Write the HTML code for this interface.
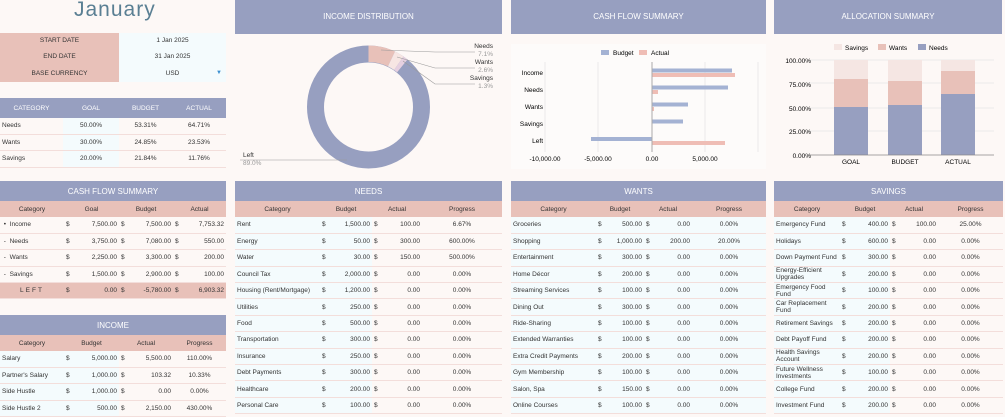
<!DOCTYPE html>
<html><head><meta charset="utf-8"><style>
*{margin:0;padding:0;box-sizing:border-box}
body{width:1005px;height:413px;background:#fdf8f6;position:relative;overflow:hidden;font-family:"Liberation Sans",sans-serif;font-size:6.5px;color:#333}
.abs{position:absolute}
.hdr{position:absolute;background:#979fc0;color:#fff;text-align:center;font-size:8px}
table{position:absolute;border-collapse:collapse;table-layout:fixed}
td{height:16.4px;border-bottom:1px solid #f3dedb;white-space:nowrap;overflow:hidden;padding:0 2px;vertical-align:middle}
tr.sub td{background:#e8c1b9;height:16px;text-align:center;color:#333;border:none;font-size:6.5px}
tr.th td{background:#979fc0;color:#fff;height:20px;text-align:center;font-size:8px;border:none}
.r{text-align:right}.c{text-align:center}
.b{background:#f4fbfd}.p{background:#fdf6f4}
.wrap td{white-space:normal;line-height:7px}
</style></head><body>

<div class="abs" style="left:74px;top:-2px;font-size:21px;color:#5a7f93;letter-spacing:1px">January</div>

<div class="abs" style="left:0;top:33px;width:119px;height:49px;background:#e8c1b9"></div>
<div class="abs" style="left:119px;top:33px;width:107px;height:49px;background:#f4fbfd"></div>
<div class="abs" style="left:0;top:37px;width:119px;text-align:center;font-size:6.5px">START DATE</div>
<div class="abs" style="left:0;top:53px;width:119px;text-align:center;font-size:6.5px">END DATE</div>
<div class="abs" style="left:0;top:70px;width:119px;text-align:center;font-size:6.5px">BASE CURRENCY</div>
<div class="abs" style="left:119px;top:37px;width:107px;text-align:center">1 Jan 2025</div>
<div class="abs" style="left:119px;top:53px;width:107px;text-align:center">31 Jan 2025</div>
<div class="abs" style="left:119px;top:70px;width:107px;text-align:center">USD</div>
<div class="abs" style="left:216px;top:70px;font-size:6px;color:#3a8fd0">▼</div>

<table style="left:0;top:98px;width:226px">
<colgroup><col style="width:63px"><col style="width:56px"><col style="width:53px"><col></colgroup>
<tr class="th"><td style="height:17px;font-size:6.5px">CATEGORY</td><td style="font-size:6.5px">GOAL</td><td style="font-size:6.5px">BUDGET</td><td style="font-size:6.5px">ACTUAL</td></tr>
<tr><td>Needs</td><td class="c b">50.00%</td><td class="c">53.31%</td><td class="c">64.71%</td></tr>
<tr><td>Wants</td><td class="c b">30.00%</td><td class="c">24.85%</td><td class="c">23.53%</td></tr>
<tr><td>Savings</td><td class="c b">20.00%</td><td class="c">21.84%</td><td class="c">11.76%</td></tr>
</table>

<!-- top chart headers -->
<div class="hdr" style="left:235px;top:0;width:267px;height:34px;line-height:34px">INCOME DISTRIBUTION</div>
<div class="hdr" style="left:511px;top:0;width:255px;height:34px;line-height:34px">CASH FLOW SUMMARY</div>
<div class="hdr" style="left:774px;top:0;width:228px;height:34px;line-height:34px">ALLOCATION SUMMARY</div>

<!-- donut -->
<svg class="abs" style="left:235px;top:34px" width="267" height="140">
<g transform="translate(133.5,73)">
<circle r="53" fill="none" stroke="#979fc0" stroke-width="17"/>
<path d="M0,-61.5 A61.5,61.5 0 0 1 26.5,-55.5 L19.4,-40.6 A45,45 0 0 0 0,-45Z" fill="#e8c1b9"/>
<path d="M26.5,-55.5 A61.5,61.5 0 0 1 35,-50.5 L25.6,-37 A45,45 0 0 0 19.4,-40.6Z" fill="#f7e6e3"/>
<path d="M35,-50.5 A61.5,61.5 0 0 1 39,-47.5 L28.6,-34.8 A45,45 0 0 0 25.6,-37Z" fill="#e6d0e0"/>
</g>
<g stroke="#999" stroke-width="0.6" fill="none">
<polyline points="146,16 200,18 240,18"/>
<polyline points="162,23 200,34 240,34"/>
<polyline points="168,27 200,50 240,50"/>
<polyline points="112,126 5,126"/>
</g>
<g font-size="6.5" text-anchor="end">
<text x="258" y="14" fill="#333">Needs</text><text x="258" y="22" fill="#999">7.1%</text>
<text x="258" y="30" fill="#333">Wants</text><text x="258" y="38" fill="#999">2.6%</text>
<text x="258" y="46" fill="#333">Savings</text><text x="258" y="54" fill="#999">1.3%</text>
</g>
<text x="8" y="123" font-size="6.5" fill="#333">Left</text><text x="8" y="131" font-size="6.5" fill="#999">89.0%</text>
</svg>

<!-- cash flow bar chart -->
<svg class="abs" style="left:511px;top:44px" width="255" height="125">
<rect x="0" y="0" width="255" height="125" fill="#fdfbfa"/>
<rect x="90" y="6" width="8" height="5" fill="#a4b2d3"/><text x="102" y="11" font-size="6.5">Budget</text>
<rect x="128" y="6" width="8" height="5" fill="#efbdb5"/><text x="140" y="11" font-size="6.5">Actual</text>
<g stroke="#e2e2e2" stroke-width="0.7"><line x1="34" y1="18" x2="34" y2="108"/><line x1="87" y1="18" x2="87" y2="108"/><line x1="194" y1="18" x2="194" y2="108"/><line x1="247" y1="18" x2="247" y2="108"/></g>
<g fill="#a4b2d3"><rect x="141" y="24.5" width="80" height="4"/><rect x="141" y="41.5" width="76" height="4"/><rect x="141" y="58.5" width="36" height="4"/><rect x="141" y="75.5" width="31" height="4"/><rect x="80" y="93" width="61" height="4"/></g>
<g fill="#efbdb5"><rect x="141" y="29" width="83" height="4"/><rect x="141" y="46" width="6" height="4"/><rect x="141" y="63" width="2" height="4"/><rect x="141" y="97" width="73" height="4"/></g>
<line x1="141" y1="18" x2="141" y2="108" stroke="#aaa" stroke-width="1"/>
<g font-size="6.5" text-anchor="end"><text x="32" y="31">Income</text><text x="32" y="48">Needs</text><text x="32" y="65">Wants</text><text x="32" y="82">Savings</text><text x="32" y="99">Left</text></g>
<g font-size="6.5" text-anchor="middle"><text x="34" y="117">-10,000.00</text><text x="87" y="117">-5,000.00</text><text x="141" y="117">0.00</text><text x="194" y="117">5,000.00</text></g>
</svg>

<!-- allocation chart -->
<svg class="abs" style="left:774px;top:38px" width="228" height="130">
<rect x="60" y="6" width="8" height="6" fill="#f5e6e3"/><text x="71" y="12" font-size="6.5">Savings</text>
<rect x="104" y="6" width="8" height="6" fill="#e8c1b9"/><text x="115" y="12" font-size="6.5">Wants</text>
<rect x="144" y="6" width="8" height="6" fill="#979fc0"/><text x="155" y="12" font-size="6.5">Needs</text>
<g stroke="#e6e6e6" stroke-width="0.7"><line x1="34" y1="22" x2="220" y2="22"/><line x1="34" y1="45" x2="220" y2="45"/><line x1="34" y1="70" x2="220" y2="70"/><line x1="34" y1="93" x2="220" y2="93"/></g>
<g font-size="6.5" text-anchor="end"><text x="37" y="25">100.00%</text><text x="37" y="49">75.00%</text><text x="37" y="73">50.00%</text><text x="37" y="96">25.00%</text><text x="37" y="120">0.00%</text></g>
<rect x="60" y="22" width="34" height="19" fill="#f5e6e3"/><rect x="60" y="41" width="34" height="28" fill="#e8c1b9"/><rect x="60" y="69" width="34" height="48" fill="#979fc0"/>
<rect x="114" y="22" width="34" height="21" fill="#f5e6e3"/><rect x="114" y="43" width="34" height="24" fill="#e8c1b9"/><rect x="114" y="67" width="34" height="50" fill="#979fc0"/>
<rect x="167" y="22" width="34" height="11" fill="#f5e6e3"/><rect x="167" y="33" width="34" height="23" fill="#e8c1b9"/><rect x="167" y="56" width="34" height="61" fill="#979fc0"/>
<line x1="34" y1="117" x2="220" y2="117" stroke="#888" stroke-width="0.8"/>
<g font-size="6.5" text-anchor="middle"><text x="77" y="126">GOAL</text><text x="131" y="126">BUDGET</text><text x="184" y="126">ACTUAL</text></g>
</svg>

<!-- Cash flow summary table -->
<table style="left:0;top:181px;width:226px">
<colgroup><col style="width:64px"><col style="width:8px"><col style="width:47px"><col style="width:8px"><col style="width:46px"><col style="width:8px"><col></colgroup>
<tr class="th"><td colspan="7">CASH FLOW SUMMARY</td></tr>
<tr class="sub"><td>Category</td><td colspan="2">Goal</td><td colspan="2">Budget</td><td colspan="2">Actual</td></tr>
<tr><td>&nbsp;•&nbsp; Income</td><td>$</td><td class="r">7,500.00</td><td>$</td><td class="r">7,500.00</td><td>$</td><td class="r">7,753.32</td></tr>
<tr><td>&nbsp;-&nbsp; Needs</td><td>$</td><td class="r">3,750.00</td><td>$</td><td class="r">7,080.00</td><td>$</td><td class="r">550.00</td></tr>
<tr><td>&nbsp;-&nbsp; Wants</td><td>$</td><td class="r">2,250.00</td><td>$</td><td class="r">3,300.00</td><td>$</td><td class="r">200.00</td></tr>
<tr><td>&nbsp;-&nbsp; Savings</td><td>$</td><td class="r">1,500.00</td><td>$</td><td class="r">2,900.00</td><td>$</td><td class="r">100.00</td></tr>
<tr style="background:#e8c1b9"><td class="c" style="letter-spacing:2px">LEFT</td><td>$</td><td class="r">0.00</td><td>$</td><td class="r">-5,780.00</td><td>$</td><td class="r">6,903.32</td></tr>
</table>

<!-- Income table -->
<table style="left:0;top:315px;width:226px">
<colgroup><col style="width:64px"><col style="width:8px"><col style="width:47px"><col style="width:8px"><col style="width:46px"><col></colgroup>
<tr class="th"><td colspan="6">INCOME</td></tr>
<tr class="sub"><td>Category</td><td colspan="2">Budget</td><td colspan="2">Actual</td><td>Progress</td></tr>
<tr><td class="b">Salary</td><td class="b">$</td><td class="r b">5,000.00</td><td>$</td><td class="r">5,500.00</td><td class="c">110.00%</td></tr>
<tr><td class="b">Partner's Salary</td><td class="b">$</td><td class="r b">1,000.00</td><td>$</td><td class="r">103.32</td><td class="c">10.33%</td></tr>
<tr><td class="b">Side Hustle</td><td class="b">$</td><td class="r b">1,000.00</td><td>$</td><td class="r">0.00</td><td class="c">0.00%</td></tr>
<tr><td class="b">Side Hustle 2</td><td class="b">$</td><td class="r b">500.00</td><td>$</td><td class="r">2,150.00</td><td class="c">430.00%</td></tr>
</table>

<!-- Needs -->
<table style="left:235px;top:181px;width:267px">
<colgroup><col style="width:85px"><col style="width:10px"><col style="width:42px"><col style="width:12px"><col style="width:38px"><col></colgroup>
<tr class="th"><td colspan="6">NEEDS</td></tr>
<tr class="sub"><td>Category</td><td colspan="2">Budget</td><td colspan="2">Actual</td><td>Progress</td></tr>
<tr><td class="b">Rent</td><td class="b">$</td><td class="r b">1,500.00</td><td>$</td><td class="r">100.00</td><td class="c">6.67%</td></tr>
<tr><td class="b">Energy</td><td class="b">$</td><td class="r b">50.00</td><td>$</td><td class="r">300.00</td><td class="c">600.00%</td></tr>
<tr><td class="b">Water</td><td class="b">$</td><td class="r b">30.00</td><td>$</td><td class="r">150.00</td><td class="c">500.00%</td></tr>
<tr><td class="b">Council Tax</td><td class="b">$</td><td class="r b">2,000.00</td><td>$</td><td class="r">0.00</td><td class="c">0.00%</td></tr>
<tr><td class="b">Housing (Rent/Mortgage)</td><td class="b">$</td><td class="r b">1,200.00</td><td>$</td><td class="r">0.00</td><td class="c">0.00%</td></tr>
<tr><td class="b">Utilities</td><td class="b">$</td><td class="r b">250.00</td><td>$</td><td class="r">0.00</td><td class="c">0.00%</td></tr>
<tr><td class="b">Food</td><td class="b">$</td><td class="r b">500.00</td><td>$</td><td class="r">0.00</td><td class="c">0.00%</td></tr>
<tr><td class="b">Transportation</td><td class="b">$</td><td class="r b">300.00</td><td>$</td><td class="r">0.00</td><td class="c">0.00%</td></tr>
<tr><td class="b">Insurance</td><td class="b">$</td><td class="r b">250.00</td><td>$</td><td class="r">0.00</td><td class="c">0.00%</td></tr>
<tr><td class="b">Debt Payments</td><td class="b">$</td><td class="r b">300.00</td><td>$</td><td class="r">0.00</td><td class="c">0.00%</td></tr>
<tr><td class="b">Healthcare</td><td class="b">$</td><td class="r b">200.00</td><td>$</td><td class="r">0.00</td><td class="c">0.00%</td></tr>
<tr><td class="b">Personal Care</td><td class="b">$</td><td class="r b">100.00</td><td>$</td><td class="r">0.00</td><td class="c">0.00%</td></tr>
</table>

<!-- Wants -->
<table style="left:511px;top:181px;width:255px">
<colgroup><col style="width:85px"><col style="width:10px"><col style="width:38px"><col style="width:12px"><col style="width:36px"><col></colgroup>
<tr class="th"><td colspan="6">WANTS</td></tr>
<tr class="sub"><td>Category</td><td colspan="2">Budget</td><td colspan="2">Actual</td><td>Progress</td></tr>
<tr><td class="b">Groceries</td><td class="b">$</td><td class="r b">500.00</td><td class="b">$</td><td class="r b">0.00</td><td class="c b">0.00%</td></tr>
<tr><td class="b">Shopping</td><td class="b">$</td><td class="r b">1,000.00</td><td class="b">$</td><td class="r b">200.00</td><td class="c b">20.00%</td></tr>
<tr><td class="b">Entertainment</td><td class="b">$</td><td class="r b">300.00</td><td class="b">$</td><td class="r b">0.00</td><td class="c b">0.00%</td></tr>
<tr><td class="b">Home Décor</td><td class="b">$</td><td class="r b">200.00</td><td class="b">$</td><td class="r b">0.00</td><td class="c b">0.00%</td></tr>
<tr><td class="b">Streaming Services</td><td class="b">$</td><td class="r b">100.00</td><td class="b">$</td><td class="r b">0.00</td><td class="c b">0.00%</td></tr>
<tr><td class="b">Dining Out</td><td class="b">$</td><td class="r b">300.00</td><td class="b">$</td><td class="r b">0.00</td><td class="c b">0.00%</td></tr>
<tr><td class="b">Ride-Sharing</td><td class="b">$</td><td class="r b">100.00</td><td class="b">$</td><td class="r b">0.00</td><td class="c b">0.00%</td></tr>
<tr><td class="b">Extended Warranties</td><td class="b">$</td><td class="r b">100.00</td><td class="b">$</td><td class="r b">0.00</td><td class="c b">0.00%</td></tr>
<tr><td class="b">Extra Credit Payments</td><td class="b">$</td><td class="r b">200.00</td><td class="b">$</td><td class="r b">0.00</td><td class="c b">0.00%</td></tr>
<tr><td class="b">Gym Membership</td><td class="b">$</td><td class="r b">100.00</td><td class="b">$</td><td class="r b">0.00</td><td class="c b">0.00%</td></tr>
<tr><td class="b">Salon, Spa</td><td class="b">$</td><td class="r b">150.00</td><td class="b">$</td><td class="r b">0.00</td><td class="c b">0.00%</td></tr>
<tr><td class="b">Online Courses</td><td class="b">$</td><td class="r b">100.00</td><td class="b">$</td><td class="r b">0.00</td><td class="c b">0.00%</td></tr>
</table>

<!-- Savings -->
<table class="wrap" style="left:774px;top:181px;width:229px">
<colgroup><col style="width:66px"><col style="width:10px"><col style="width:40px"><col style="width:12px"><col style="width:36px"><col></colgroup>
<tr class="th"><td colspan="6">SAVINGS</td></tr>
<tr class="sub"><td>Category</td><td colspan="2">Budget</td><td colspan="2">Actual</td><td>Progress</td></tr>
<tr><td class="b">Emergency Fund</td><td class="b">$</td><td class="r b">400.00</td><td>$</td><td class="r">100.00</td><td class="c">25.00%</td></tr>
<tr><td class="b">Holidays</td><td class="b">$</td><td class="r b">600.00</td><td>$</td><td class="r">0.00</td><td class="c">0.00%</td></tr>
<tr><td class="b">Down Payment Fund</td><td class="b">$</td><td class="r b">300.00</td><td>$</td><td class="r">0.00</td><td class="c">0.00%</td></tr>
<tr><td class="b">Energy-Efficient Upgrades</td><td class="b">$</td><td class="r b">200.00</td><td>$</td><td class="r">0.00</td><td class="c">0.00%</td></tr>
<tr><td class="b">Emergency Food Fund</td><td class="b">$</td><td class="r b">100.00</td><td>$</td><td class="r">0.00</td><td class="c">0.00%</td></tr>
<tr><td class="b">Car Replacement Fund</td><td class="b">$</td><td class="r b">200.00</td><td>$</td><td class="r">0.00</td><td class="c">0.00%</td></tr>
<tr><td class="b">Retirement Savings</td><td class="b">$</td><td class="r b">200.00</td><td>$</td><td class="r">0.00</td><td class="c">0.00%</td></tr>
<tr><td class="b">Debt Payoff Fund</td><td class="b">$</td><td class="r b">200.00</td><td>$</td><td class="r">0.00</td><td class="c">0.00%</td></tr>
<tr><td class="b">Health Savings Account</td><td class="b">$</td><td class="r b">200.00</td><td>$</td><td class="r">0.00</td><td class="c">0.00%</td></tr>
<tr><td class="b">Future Wellness Investments</td><td class="b">$</td><td class="r b">100.00</td><td>$</td><td class="r">0.00</td><td class="c">0.00%</td></tr>
<tr><td class="b">College Fund</td><td class="b">$</td><td class="r b">200.00</td><td>$</td><td class="r">0.00</td><td class="c">0.00%</td></tr>
<tr><td class="b">Investment Fund</td><td class="b">$</td><td class="r b">200.00</td><td>$</td><td class="r">0.00</td><td class="c">0.00%</td></tr>
</table>

</body></html>
